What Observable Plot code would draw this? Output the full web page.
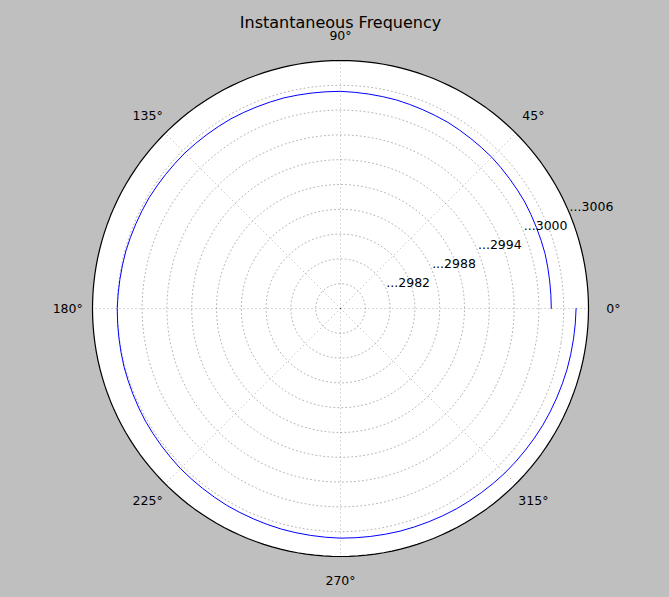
<!DOCTYPE html>
<html>
<head>
<meta charset="utf-8">
<script src="https://cdn.jsdelivr.net/npm/d3@7"></script>
<script src="https://cdn.jsdelivr.net/npm/@observablehq/plot@0.6"></script>
<style>
  html, body { margin: 0; padding: 0; background: #bfbfbf; }
</style>
</head>
<body>
<div id="chart"></div>
<script>
// ---- data ----
const titleText = "Instantaneous Frequency";
// angle of each sample (degrees) and instantaneous frequency (radius)
const thetaDeg = [0, 15, 30, 45, 60, 75, 90, 105, 120, 135, 150, 165, 180,
                  195, 210, 225, 240, 255, 270, 285, 300, 315, 330, 345, 360];
const freq = [3001.50, 3001.62, 3001.75, 3001.88, 3002.00, 3002.12, 3002.27,
              3002.38, 3002.50, 3002.62, 3002.75, 3002.88, 3003.01, 3003.12,
              3003.25, 3003.38, 3003.50, 3003.63, 3003.78, 3003.88, 3004.00,
              3004.13, 3004.25, 3004.38, 3004.50];
// radial axis
const rMin = 2976, rMax = 3006;
const ringValues = [2979, 2982, 2985, 2988, 2991, 2994, 2997, 3000, 3003];
const radialTickValues = [2982, 2988, 2994, 3000, 3006];
const radialTickLabels = ["...2982", "...2988", "...2994", "...3000", "...3006"];
const radialLabelAngle = 22.5;
// angular axis
const angleTicks = [0, 45, 90, 135, 180, 225, 270, 315];
const angleTickLabels = ["0°", "45°", "90°", "135°", "180°", "225°", "270°", "315°"];
const angleLabelPad = 1.1; // labels at 1.1 × outer radius

// ---- helpers: radius value -> polar distance (latitude) ----
const lat = (v) => 90 - (v - rMin) / (rMax - rMin) * 90;
const outer = d3.geoCircle().center([0, 90]).radius(90)();

const spiral = thetaDeg.map((t, i) => ({theta: t, r: freq[i]}));
const radialTicks = radialTickValues.map((v, i) => ({v, label: radialTickLabels[i]}));
const angleLabels = angleTicks.map((a, i) => ({a, label: angleTickLabels[i]}));

const gridStyle = {stroke: "#000", strokeOpacity: 0.6, strokeWidth: 0.5, strokeDasharray: "1,3"};

const chart = Plot.plot({
  width: 669,
  height: 597,
  marginLeft: 92,
  marginRight: 81,
  marginTop: 60,
  marginBottom: 41,
  projection: {
    type: "azimuthal-equidistant",
    rotate: [90, -90],
    domain: outer,
    clip: false
  },
  style: {
    background: "#bfbfbf",
    fontFamily: "DejaVu Sans, sans-serif",
    fontSize: "12.5px",
    color: "black",
    overflow: "visible"
  },
  marks: [
    // plot area
    Plot.geo([outer], {fill: "white", stroke: "none"}),
    // concentric grid rings
    Plot.geo(ringValues.map((v) => d3.geoCircle().center([0, 90]).radius(90 - lat(v))()), {
      fill: "none", ...gridStyle
    }),
    // spokes
    Plot.link(angleTicks, {
      x1: (a) => a, y1: 90, x2: (a) => a, y2: lat(rMax), ...gridStyle
    }),
    // data
    Plot.line(spiral, {x: "theta", y: (d) => lat(d.r), stroke: "#0000ff", strokeWidth: 1}),
    // outer frame
    Plot.geo([outer], {fill: "none", stroke: "black", strokeWidth: 1.2}),
    // radial tick labels
    Plot.text(radialTicks, {
      x: () => radialLabelAngle, y: (d) => lat(d.v), text: "label",
      textAnchor: "start", lineAnchor: "bottom", dy: -3, fill: "black"
    }),
    // angular tick labels
    Plot.text(angleLabels, {
      x: "a", y: () => 90 - 90 * angleLabelPad, text: "label",
      textAnchor: "middle", lineAnchor: "middle", fill: "black"
    }),
    // title
    Plot.text([titleText], {
      frameAnchor: "top", dy: -33, lineAnchor: "bottom",
      fontSize: 16, fill: "black"
    })
  ]
});
document.getElementById("chart").appendChild(chart);
</script>
</body>
</html>
